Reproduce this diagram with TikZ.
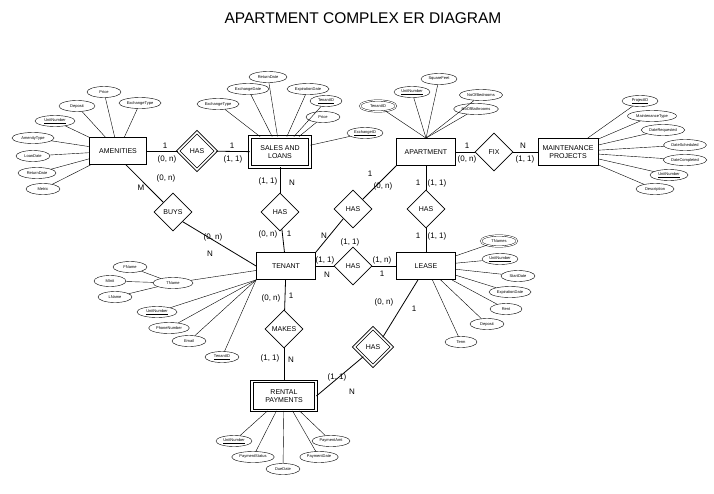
\documentclass[tikz,border=0pt]{standalone}
\usepackage{fontspec}
\setmainfont{Liberation Sans}
\usetikzlibrary{shapes.geometric}
\begin{document}
\begin{tikzpicture}[x=1pt,y=-1pt,
 ent/.style={draw,thick,align=center,font=\fontsize{7}{8}\selectfont,minimum height=27,inner xsep=4},
 went/.style={ent,double,double distance=1.6pt},
 rel/.style={draw,thick,diamond,aspect=1,inner sep=0,minimum size=38,font=\fontsize{7}{8}\selectfont},
 wrel/.style={rel,double,double distance=1.6pt},
 attr/.style={draw,ellipse,inner xsep=1.5,inner ysep=0,minimum height=11,font=\fontsize{4}{5}\selectfont},
 key/.style={attr},
 mv/.style={attr,double,double distance=1pt},
 lab/.style={font=\fontsize{8}{9}\selectfont},
 ln/.style={draw,thick}]
\path[use as bounding box] (0,0) rectangle (714,493);
\node[font=\fontsize{15.5}{17}\selectfont] (title) at (363,18) {APARTMENT COMPLEX ER DIAGRAM};
% entities
\node[ent,minimum width=57] (am) at (118,151) {AMENITIES};
\node[went,minimum width=60,minimum height=30] (sl) at (280,152) {SALES AND\\LOANS};
\node[ent,minimum width=59] (ap) at (426,152) {APARTMENT};
\node[ent,minimum width=60] (mp) at (568,152) {MAINTENANCE\\PROJECTS};
\node[ent,minimum width=59] (te) at (286,266) {TENANT};
\node[ent,minimum width=59] (le) at (426,266) {LEASE};
\node[went,minimum width=64,minimum height=29] (rp) at (284,396) {RENTAL\\PAYMENTS};
% relationships
\node[wrel] (h1) at (197,151) {HAS};
\node[rel] (fix) at (494,152) {FIX};
\node[rel] (buys) at (173,212) {BUYS};
\node[rel] (h2) at (280,212) {HAS};
\node[rel] (h3) at (353,209) {HAS};
\node[rel] (h4) at (426,209) {HAS};
\node[rel] (h5) at (353,266) {HAS};
\node[rel] (mk) at (284,329) {MAKES};
\node[wrel] (h6) at (373,347) {HAS};
% connectors
\draw[ln] (am) -- (h1); \draw[ln] (h1) -- (sl);
\draw[ln] (ap) -- (fix); \draw[ln] (fix) -- (mp);
\draw[ln] (am.-60) -- (buys.north west); \draw[ln] (buys.south east) -- (te.west);
\draw[ln] (sl) -- (h2); \draw[ln] (h2) -- (te);
\draw[ln] (ap.south west) -- (h3.north east); \draw[ln] (h3.south west) -- (te.north east);
\draw[ln] (ap) -- (h4); \draw[ln] (h4) -- (le);
\draw[ln] (te) -- (h5); \draw[ln] (h5) -- (le);
\draw[ln] (te) -- (mk); \draw[ln] (mk) -- (rp);
\draw[ln] (le.-120) -- (h6.north east); \draw[ln] (h6.south west) -- (rp.east);
% cardinality labels
\node[lab] (c1) at (165,146) {1}; \node[lab] (c2) at (167,159) {(0, n)};
\node[lab] (c3) at (232,146) {1}; \node[lab] (c4) at (233,159) {(1, 1)};
\node[lab] (c5) at (166,178) {(0, n)}; \node[lab] (c6) at (141,188) {M};
\node[lab] (c7) at (213,237) {(0, n)}; \node[lab] (c8) at (210,254) {N};
\node[lab] (c9) at (268,181) {(1, 1)}; \node[lab] (c10) at (292,183) {N};
\node[lab] (c11) at (268,234) {(0, n)}; \node[lab] (c12) at (289,234) {1};
\node[lab] (c13) at (370,174) {1}; \node[lab] (c14) at (383,186) {(0, n)};
\node[lab] (c15) at (324,236) {N}; \node[lab] (c16) at (350,242) {(1, 1)};
\node[lab] (c17) at (418,183) {1}; \node[lab] (c18) at (437,183) {(1, 1)};
\node[lab] (c19) at (418,236) {1}; \node[lab] (c20) at (437,236) {(1, 1)};
\node[lab] (c21) at (325,260) {(1, 1)}; \node[lab] (c22) at (327,275) {N};
\node[lab] (c23) at (382,260) {(1, n)}; \node[lab] (c24) at (382,274) {1};
\node[lab] (c25) at (467,146) {1}; \node[lab] (c26) at (467,159) {(0, n)};
\node[lab] (c27) at (523,146) {N}; \node[lab] (c28) at (525,159) {(1, 1)};
\node[lab] (c29) at (271,298) {(0, n)}; \node[lab] (c30) at (291,296) {1};
\node[lab] (c31) at (270,358) {(1, 1)}; \node[lab] (c32) at (291,360) {N};
\node[lab] (c33) at (384,302) {(0, n)}; \node[lab] (c34) at (414,309) {1};
\node[lab] (c35) at (337,377) {(1, 1)}; \node[lab] (c36) at (352,392) {N};
% amenities attributes
\node[attr,minimum width=34] (a1) at (104,92) {Price};
\node[attr,minimum width=36] (a2) at (77,106) {Deposit};
\node[attr,minimum width=42] (a3) at (140,103) {ExchangeType};
\node[key,minimum width=40] (a4) at (55,121) {\underline{UnitNumber}};
\node[attr,minimum width=42] (a5) at (33,138) {AmenityType};
\node[attr,minimum width=34] (a6) at (33,156) {LoanDate};
\node[attr,minimum width=38] (a7) at (37,173) {ReturnDate};
\node[attr,minimum width=34] (a8) at (43,189) {Metric};
\foreach \a in {a1,a2,a3,a4,a5,a6,a7,a8} \draw (\a) -- (am);
% sales attributes
\node[attr,minimum width=38] (s1) at (268,77) {ReturnDate};
\node[attr,minimum width=42] (s2) at (248,89) {ExchangeDate};
\node[attr,minimum width=42] (s3) at (308,89) {ExpirationDate};
\node[attr,minimum width=42] (s4) at (218,104) {ExchangeType};
\node[key,minimum width=32] (s5) at (326,101) {\underline{TenantID}};
\node[attr,minimum width=34] (s6) at (323,117) {Price};
\node[key,minimum width=36] (s7) at (365,133) {\underline{ExchangeID}};
\foreach \a in {s1,s2,s3,s4,s5,s6,s7} \draw (\a) -- (sl);
% apartment attributes
\node[mv,minimum width=36] (p1) at (378,106) {TenantID};
\node[key,minimum width=36] (p2) at (412,92) {\underline{UnitNumber}};
\node[attr,minimum width=36] (p3) at (439,79) {SquareFeet};
\node[attr,minimum width=42] (p4) at (481,95) {NoOfBedrooms};
\node[attr,minimum width=42] (p5) at (476,109) {NoOfBathrooms};
\foreach \a in {p1,p2,p3,p4,p5} \draw (\a) -- (ap.north);
% maintenance attributes
\node[key,minimum width=36] (m1) at (640,101) {\underline{ProjectID}};
\node[attr,minimum width=42] (m2) at (652,116) {MaintenanceType};
\node[attr,minimum width=42] (m3) at (663,130) {DateRequested};
\node[attr,minimum width=42] (m4) at (685,145) {DateScheduled};
\node[attr,minimum width=42] (m5) at (685,160) {DateCompleted};
\node[attr,minimum width=38] (m6) at (669,175) {\underline{UnitNumber}};
\node[attr,minimum width=38] (m7) at (655,189) {Description};
\foreach \a in {m1,m2,m3,m4,m5,m6,m7} \draw (\a) -- (mp);
% tenant attributes
\node[attr,minimum width=40] (t1) at (173,283) {TName};
\node[attr,minimum width=34] (t2) at (130,267) {FName};
\node[attr,minimum width=32] (t3) at (110,281) {MInit};
\node[attr,minimum width=34] (t4) at (115,297) {LName};
\draw (t2) -- (t1); \draw (t3) -- (t1); \draw (t4) -- (t1);
\node[attr,minimum width=40] (t5) at (157,312) {\underline{UnitNumber}};
\node[attr,minimum width=40] (t6) at (169,328) {PhoneNumber};
\node[attr,minimum width=34] (t7) at (189,341) {Email};
\node[key,minimum width=34] (t8) at (222,357) {\underline{TenantID}};
\draw (t1) -- (te);
\foreach \a in {t5,t6,t7,t8} \draw (\a) -- (te.south west);
% lease attributes
\node[mv,minimum width=36] (l1) at (499,241) {TNames};
\node[key,minimum width=36] (l2) at (500,259) {\underline{UnitNumber}};
\node[attr,minimum width=34] (l3) at (518,276) {StartDate};
\node[attr,minimum width=42] (l4) at (510,292) {ExpirationDate};
\node[attr,minimum width=32] (l5) at (506,309) {Rent};
\node[attr,minimum width=34] (l6) at (487,324) {Deposit};
\node[attr,minimum width=32] (l7) at (461,342) {Term};
\foreach \a in {l1,l2,l3,l4,l5,l6,l7} \draw (\a) -- (le);
% rental attributes
\node[key,minimum width=36] (r1) at (234,441) {\underline{UnitNumber}};
\node[attr,minimum width=40] (r2) at (253,457) {PaymentStatus};
\node[attr,minimum width=34] (r3) at (283,469) {DueDate};
\node[attr,minimum width=38] (r4) at (319,457) {PaymentDate};
\node[attr,minimum width=38] (r5) at (331,441) {PaymentAmt};
\foreach \a in {r1,r2,r3,r4,r5} \draw (\a) -- (rp);
\end{tikzpicture}
\end{document}
